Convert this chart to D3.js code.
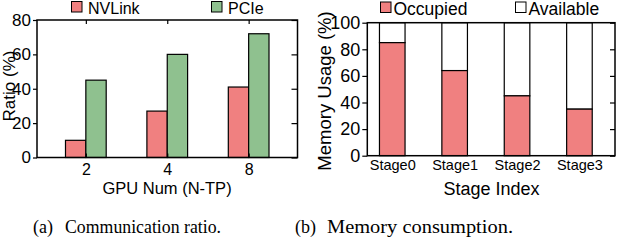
<!DOCTYPE html>
<html>
<head>
<meta charset="utf-8">
<script src="https://cdn.jsdelivr.net/npm/d3@7"></script>
<style>
  body { margin: 0; background: #fff; }
  svg { display: block; }
  text { font-family: "Liberation Sans", Arial, sans-serif; fill: #000; }
  .cap { font-family: "Liberation Serif", "DejaVu Serif", serif; }
</style>
</head>
<body>
<svg id="chart" width="618" height="240"></svg>
<script>
// left panel data
const gpuNums = ['2', '4', '8'];
const nvlink = [10, 27, 41];
const pcie = [45, 60, 72];
const ratioTicks = [0, 20, 40, 60, 80];

// right panel data
const stages = ['Stage0', 'Stage1', 'Stage2', 'Stage3'];
const occupied = [85, 64, 45, 35];
const memTicks = [0, 20, 40, 60, 80, 100];

const red = '#f08080';
const green = '#8fc18f';

const svg = d3.select('#chart');

// ---------- (a) communication ratio ----------
const xa = d3.scaleLinear().domain([-0.6, 2.6]).range([37, 297.5]);
const ya = d3.scaleLinear().domain([0, 80]).range([157.5, 20]);
const bwA = 0.25;

const ga = svg.append('g');

ga.selectAll('.nv')
  .data(nvlink)
  .enter()
  .append('rect')
  .attr('x', (d, i) => xa(i - bwA))
  .attr('y', d => ya(d))
  .attr('width', xa(bwA) - xa(0))
  .attr('height', d => ya(0) - ya(d))
  .attr('fill', red)
  .attr('stroke', '#000')
  .attr('stroke-width', 1.2);

ga.selectAll('.pc')
  .data(pcie)
  .enter()
  .append('rect')
  .attr('x', (d, i) => xa(i))
  .attr('y', d => ya(d))
  .attr('width', xa(bwA) - xa(0))
  .attr('height', d => ya(0) - ya(d))
  .attr('fill', green)
  .attr('stroke', '#000')
  .attr('stroke-width', 1.2);

// left axis, ticks outward
const ayL = ga.append('g')
  .attr('transform', `translate(${xa.range()[0]},0)`)
  .call(d3.axisLeft(ya).tickValues(ratioTicks).tickSize(4).tickPadding(2));
ayL.selectAll('text').style('font-size', '17px');

// right mirror ticks, inward
ga.append('g')
  .attr('transform', `translate(${xa.range()[1]},0)`)
  .call(d3.axisLeft(ya).tickValues(ratioTicks).tickSize(6).tickFormat(''));

// top mirror ticks, inward
ga.append('g')
  .attr('transform', `translate(0,${ya.range()[1]})`)
  .call(d3.axisBottom(xa).tickValues([0, 1, 2]).tickSize(4).tickFormat(''));

// bottom axis
const axA = ga.append('g')
  .attr('transform', `translate(0,${ya.range()[0]})`)
  .call(d3.axisBottom(xa).tickValues([0, 1, 2]).tickSize(-4).tickPadding(6)
    .tickFormat(i => gpuNums[i]));
axA.selectAll('text').style('font-size', '16px');

ga.selectAll('.domain').remove();
ga.selectAll('.tick line').attr('stroke-width', 1.2);

// box
ga.append('rect')
  .attr('x', xa.range()[0]).attr('y', ya.range()[1])
  .attr('width', xa.range()[1] - xa.range()[0])
  .attr('height', ya.range()[0] - ya.range()[1])
  .attr('fill', 'none').attr('stroke', '#000').attr('stroke-width', 1.5);

ga.append('text')
  .attr('x', 167).attr('y', 194)
  .attr('text-anchor', 'middle')
  .style('font-size', '16.5px')
  .text('GPU Num (N-TP)');

ga.append('text')
  .attr('transform', 'translate(15,86) rotate(-90)')
  .attr('text-anchor', 'middle')
  .style('font-size', '17px')
  .text('Ratio (%)');

// legend
const legA = [{ name: 'NVLink', c: red, x: 71 }, { name: 'PCIe', c: green, x: 211 }];
legA.forEach(l => {
  ga.append('rect').attr('x', l.x + 0.5).attr('y', 1.5).attr('width', 10.5).attr('height', 10.5)
    .attr('fill', l.c).attr('stroke', '#000').attr('stroke-width', 1);
  ga.append('text').attr('x', l.x + 17).attr('y', 13.5).style('font-size', '16px').text(l.name);
});

// ---------- (b) memory consumption ----------
const xb = d3.scaleLinear().domain([-0.4, 3.57]).range([367.3, 615]);
const yb = d3.scaleLinear().domain([0, 100]).range([155.7, 22.7]);
const bwB = 0.41;

const gb = svg.append('g');

gb.selectAll('.avail')
  .data(occupied)
  .enter()
  .append('rect')
  .attr('x', (d, i) => xb(i - bwB / 2))
  .attr('y', yb(100))
  .attr('width', xb(bwB) - xb(0))
  .attr('height', d => yb(d) - yb(100))
  .attr('fill', '#fff')
  .attr('stroke', '#000')
  .attr('stroke-width', 1.2);

gb.selectAll('.occ')
  .data(occupied)
  .enter()
  .append('rect')
  .attr('x', (d, i) => xb(i - bwB / 2))
  .attr('y', d => yb(d))
  .attr('width', xb(bwB) - xb(0))
  .attr('height', d => yb(0) - yb(d))
  .attr('fill', red)
  .attr('stroke', '#000')
  .attr('stroke-width', 1.2);

const byL = gb.append('g')
  .attr('transform', `translate(${xb.range()[0]},0)`)
  .call(d3.axisLeft(yb).tickValues(memTicks).tickSize(5).tickPadding(2));
byL.selectAll('text').style('font-size', '18px');

gb.append('g')
  .attr('transform', `translate(${xb.range()[1]},0)`)
  .call(d3.axisLeft(yb).tickValues(memTicks).tickSize(5).tickFormat(''));

const bxA = gb.append('g')
  .attr('transform', `translate(0,${yb.range()[0]})`)
  .call(d3.axisBottom(xb).tickValues([0, 1, 2, 3]).tickSize(0).tickPadding(4)
    .tickFormat(i => stages[i]));
bxA.selectAll('text').style('font-size', '14.5px');

gb.selectAll('.domain').remove();
gb.selectAll('.tick line').attr('stroke-width', 1.2);

gb.append('rect')
  .attr('x', xb.range()[0]).attr('y', yb.range()[1])
  .attr('width', xb.range()[1] - xb.range()[0])
  .attr('height', yb.range()[0] - yb.range()[1])
  .attr('fill', 'none').attr('stroke', '#000').attr('stroke-width', 1.5);

gb.append('text')
  .attr('x', 491.5).attr('y', 195)
  .attr('text-anchor', 'middle')
  .style('font-size', '18px')
  .text('Stage Index');

gb.append('text')
  .attr('transform', 'translate(331,91) rotate(-90)')
  .attr('text-anchor', 'middle')
  .style('font-size', '18.5px')
  .text('Memory Usage (%)');

const legB = [{ name: 'Occupied', c: red, x: 380 }, { name: 'Available', c: '#fff', x: 515 }];
legB.forEach(l => {
  gb.append('rect').attr('x', l.x + 0.5).attr('y', 2).attr('width', 10.5).attr('height', 10.5)
    .attr('fill', l.c).attr('stroke', '#000').attr('stroke-width', 1);
  gb.append('text').attr('x', l.x + 13.5).attr('y', 15).style('font-size', '17.5px').text(l.name);
});

// ---------- captions ----------
const caps = [
  { tag: '(a)', text: 'Communication ratio.', x: 33, tx: 65, w: 156 },
  { tag: '(b)', text: 'Memory consumption.', x: 295, tx: 327, w: 186 }
];
caps.forEach(c => {
  svg.append('text').attr('class', 'cap')
    .attr('x', c.x).attr('y', 232.5).style('font-size', '18px')
    .text(c.tag);
  svg.append('text').attr('class', 'cap')
    .attr('x', c.tx).attr('y', 232.5).style('font-size', '18px')
    .attr('textLength', c.w).attr('lengthAdjust', 'spacingAndGlyphs')
    .text(c.text);
});
</script>
</body>
</html>
